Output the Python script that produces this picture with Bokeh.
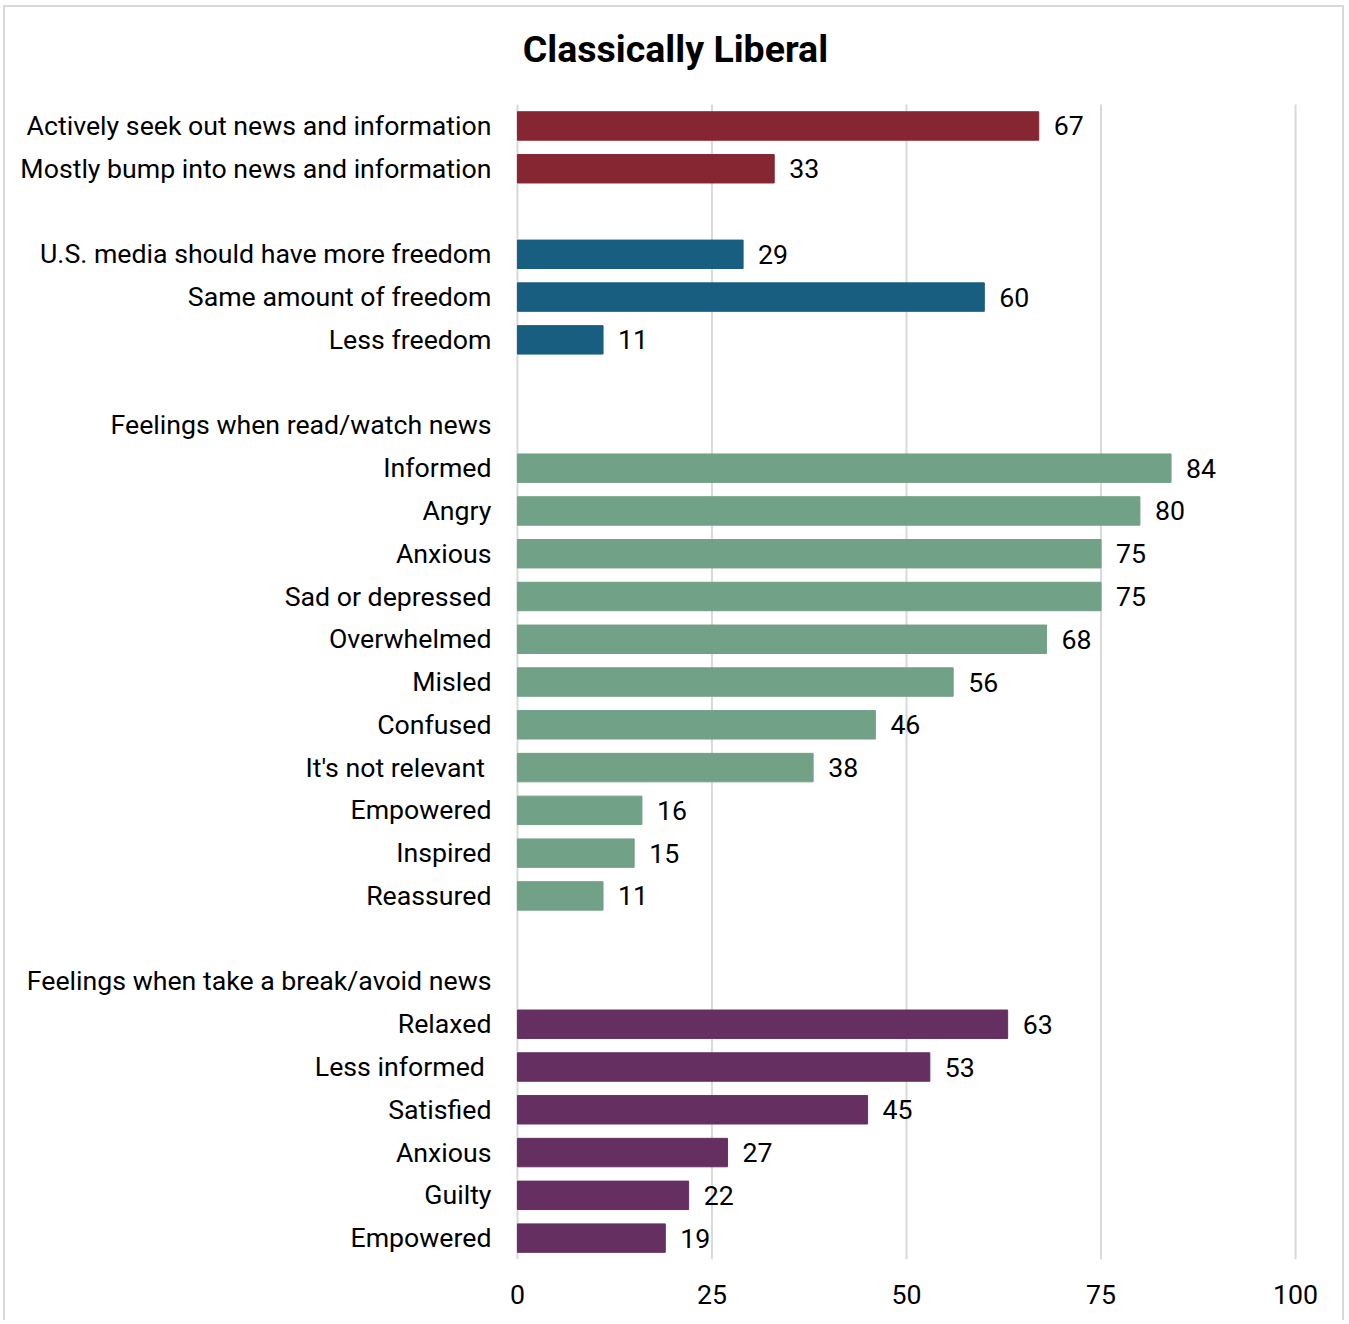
from bokeh.plotting import figure
from bokeh.models import ColumnDataSource, Range1d, FixedTicker
from bokeh.core.properties import value
from bokeh.embed import file_html
from bokeh.resources import INLINE

# ---- data ----
title_text = "Classically Liberal"

news_seek_labels = ["Actively seek out news and information", "Mostly bump into news and information"]
news_seek_values = [67, 33]

freedom_labels = ["U.S. media should have more freedom", "Same amount of freedom", "Less freedom"]
freedom_values = [29, 60, 11]

read_header = "Feelings when read/watch news"
read_labels = ["Informed", "Angry", "Anxious", "Sad or depressed", "Overwhelmed", "Misled",
               "Confused", "It's not relevant ", "Empowered", "Inspired", "Reassured"]
read_values = [84, 80, 75, 75, 68, 56, 46, 38, 16, 15, 11]

break_header = "Feelings when take a break/avoid news"
break_labels = ["Relaxed", "Less informed ", "Satisfied", "Anxious", "Guilty", "Empowered"]
break_values = [63, 53, 45, 27, 22, 19]

colors = {"seek": "#872633", "freedom": "#175E80", "read": "#71A187", "break": "#653061"}
x_ticks = [0, 25, 50, 75, 100]

# ---- build rows (top to bottom) ----
rows = []  # (label, value or None, color)
for l, v in zip(news_seek_labels, news_seek_values):
    rows.append((l, v, colors["seek"]))
rows.append(("", None, None))
for l, v in zip(freedom_labels, freedom_values):
    rows.append((l, v, colors["freedom"]))
rows.append(("", None, None))
rows.append((read_header, None, None))
for l, v in zip(read_labels, read_values):
    rows.append((l, v, colors["read"]))
rows.append(("", None, None))
rows.append((break_header, None, None))
for l, v in zip(break_labels, break_values):
    rows.append((l, v, colors["break"]))

n = len(rows)
bar_y, bar_v, bar_c, bar_t = [], [], [], []
for i, (l, v, c) in enumerate(rows):
    if v is not None:
        bar_y.append(i)
        bar_v.append(v)
        bar_c.append(c)
        bar_t.append(str(v))

src = ColumnDataSource(dict(y=bar_y, v=bar_v, c=bar_c, t=bar_t))

FS = "26.7px"
TOP_SPACE = 2.27   # extra room (in rows) above the first row, holds the title

p = figure(width=1341, height=1315, output_backend="svg", toolbar_location=None,
           x_range=Range1d(-0.25, 100.25), y_range=Range1d(n - 0.5, -0.5 - TOP_SPACE),
           min_border_left=510, min_border_right=49, min_border_top=0, min_border_bottom=63)

# vertical grid lines, spanning only the rows
grid_src = ColumnDataSource(dict(x=x_ticks, y0=[-0.5] * len(x_ticks), y1=[n - 0.5] * len(x_ticks)))
p.segment(x0="x", x1="x", y0="y0", y1="y1", source=grid_src, line_color="#d9d9d9", line_width=2)

p.hbar(y="y", right="v", left=0, height=0.665, color="c", source=src)
p.text(x="v", y="y", text="t", source=src, x_offset=15, text_baseline="middle",
       text_align="left", text_font=value("Roboto"), text_font_size=FS, text_color="#000000")

# chart title in the top band
p.text(x=[20.3], y=[-0.5 - TOP_SPACE + 0.96], text=[title_text], text_align="center",
       text_baseline="middle", text_font=value("Roboto"), text_font_size="37.5px",
       text_font_style="bold", text_color="#000000")

p.xaxis.ticker = FixedTicker(ticks=x_ticks)
p.yaxis.ticker = FixedTicker(ticks=list(range(n)))
p.yaxis.major_label_overrides = {i: rows[i][0] for i in range(n)}

for ax in (p.xaxis[0], p.yaxis[0]):
    ax.axis_line_color = None
    ax.major_tick_line_color = None
    ax.minor_tick_line_color = None
    ax.major_label_text_font = "Roboto"
    ax.major_label_text_font_size = FS
    ax.major_label_text_color = "#000000"
p.yaxis.major_label_standoff = 18
p.xaxis.major_label_standoff = 19

p.xgrid.grid_line_color = None
p.ygrid.grid_line_color = None
p.outline_line_color = None
p.background_fill_color = "white"
p.border_fill_color = "white"
p.styles = {"border-top": "2px solid #d9d9d9", "border-left": "2px solid #d9d9d9",
            "border-right": "2px solid #d9d9d9", "margin-left": "3px", "margin-top": "5px"}

open("out.html", "w").write(file_html(p, INLINE))
